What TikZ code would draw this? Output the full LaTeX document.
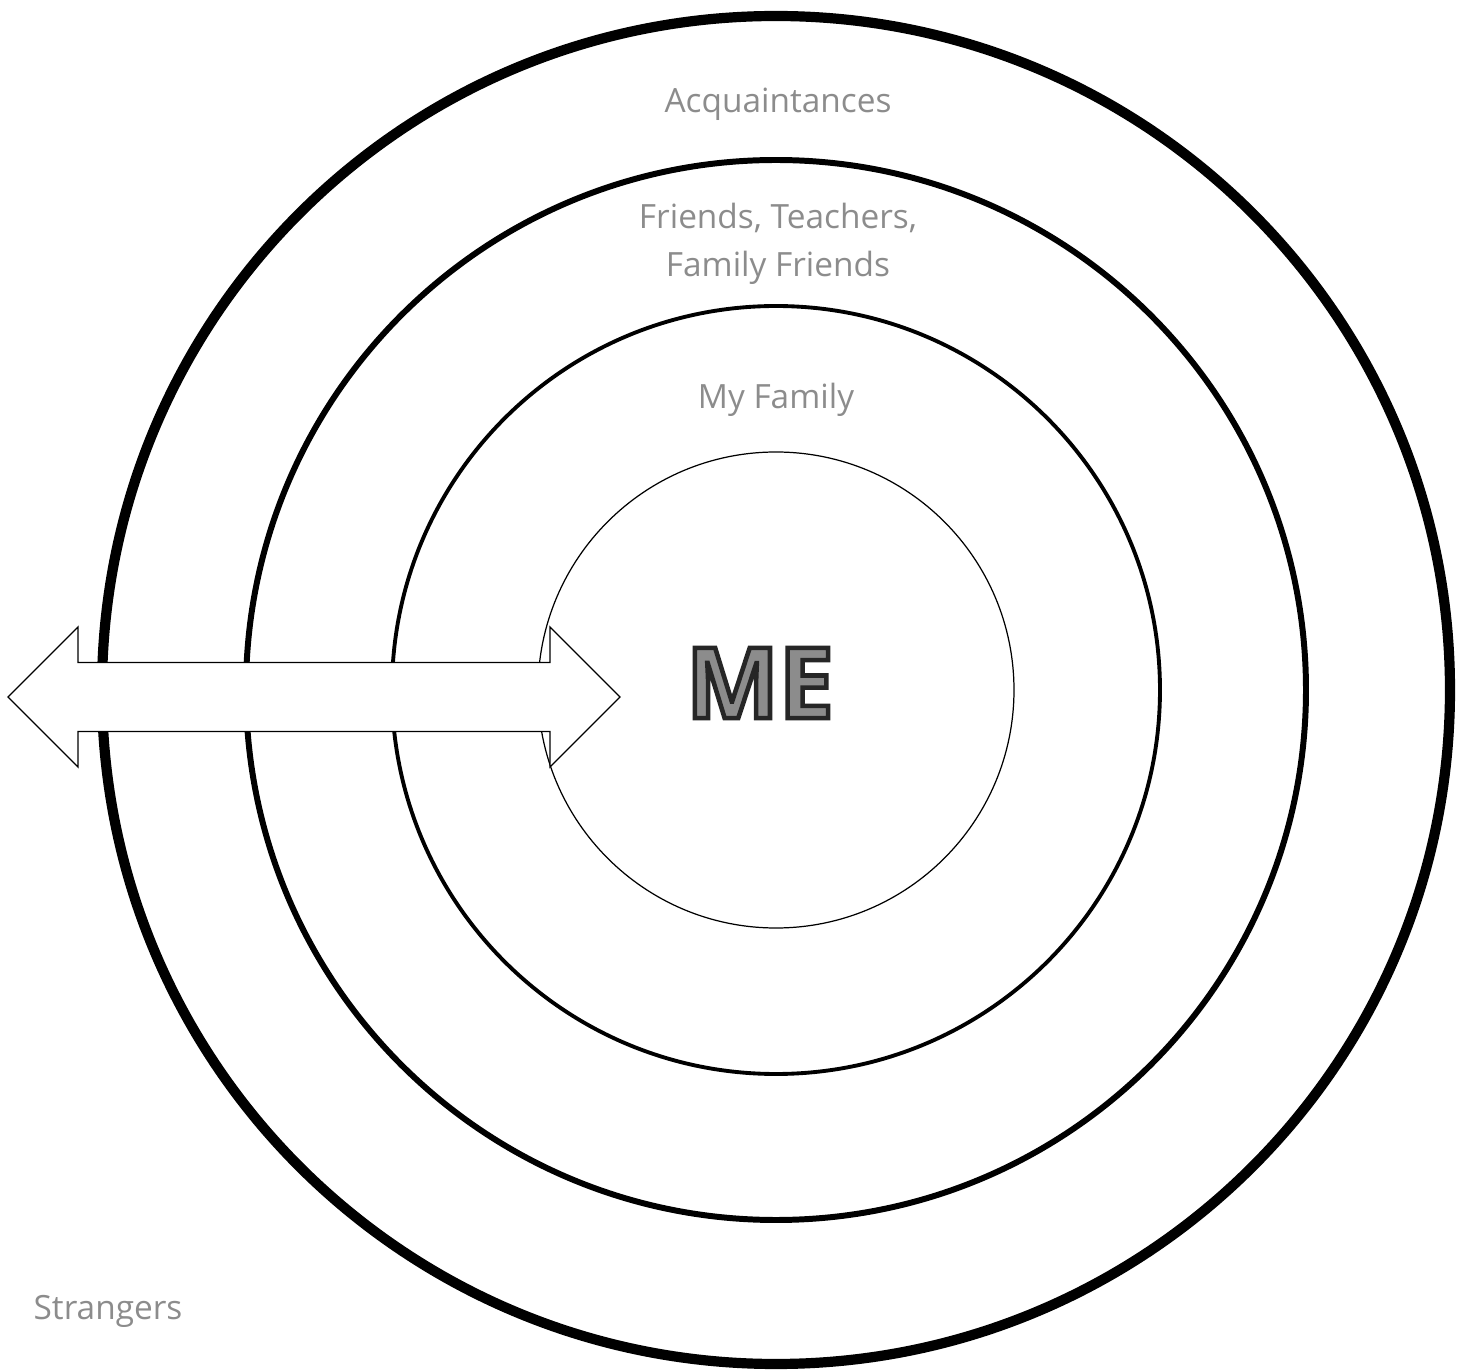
\documentclass[tikz,border=0pt]{standalone}
\usepackage{fontspec}
\setmainfont{Open Sans}
\usepackage{tikz}
\usetikzlibrary{positioning, calc}

% outlined text: grey fill, dark stroke
\newcommand{\outlined}[1]{\textcolor{black!45}{\special{pdf:literal direct 0.15 G 2 Tr 1.3 w}#1\special{pdf:literal direct 0 Tr}}}

\begin{document}
\begin{tikzpicture}[
        ring/.style={draw, circle, inner sep=0pt, outer sep=0pt},
        zone/.style={text=black!45, align=center, font=\fontsize{9.5}{13.5}\selectfont},
        link/.style={draw, fill=white, line width=0.4pt, line join=miter}
    ]
    \useasboundingbox (0,0) rectangle (14.65,13.70);

    % Centre of all rings
    \coordinate (c) at (7.76,6.80);

    % Rings, outermost first
    \node[ring, line width=2.9pt, minimum size=13.48cm] (outer) at (c) {};
    \node[ring, line width=1.7pt, minimum size=10.60cm] (middle) at (c) {};
    \node[ring, line width=1.1pt, minimum size=7.68cm] (inner) at (c) {};
    \node[ring, line width=0.35pt, minimum size=4.76cm] (core) at (c) {};

    % Double arrow across the rings
    \draw[link] (0.08,6.73) -- (0.78,7.43) -- (0.78,7.075) -- (5.50,7.075) -- (5.50,7.43)
        -- (6.20,6.73) -- (5.50,6.03) -- (5.50,6.385) -- (0.78,6.385) -- (0.78,6.03) -- cycle;

    % Labels
    \node[font=\fontsize{28}{28}\selectfont\bfseries] (me) at (7.60,6.87) {\outlined{ME}};
    \node[zone] (family) at (7.76,9.70) {My Family};
    \node[zone] (friends) at (7.78,11.26) {Friends, Teachers,\\Family Friends};
    \node[zone] (acq) at (7.78,12.66) {Acquaintances};
    \node[zone] (strangers) at (1.08,0.59) {Strangers};

\end{tikzpicture}
\end{document}
